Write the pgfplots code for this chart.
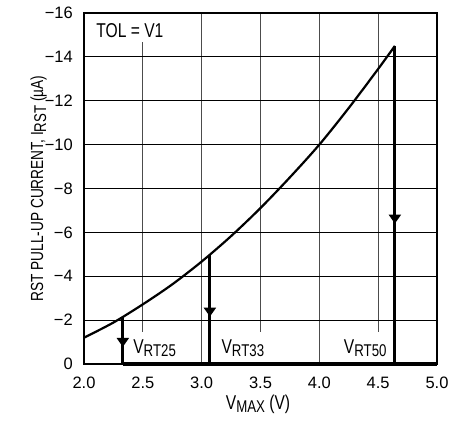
\documentclass[border=0pt]{standalone}
\usepackage{fontspec}
\setmainfont{Liberation Sans}
\newfontfamily\narrow{Liberation Sans}[FakeStretch=0.78]
\usepackage{pgfplots}
\pgfplotsset{compat=1.18}
\usetikzlibrary{arrows.meta}

% lowered, slightly smaller subscript in the condensed face
\newcommand\sub[1]{\raisebox{-3pt}{\fontsize{17}{17}\selectfont #1}}
\newcommand\lblfont{\narrow\fontsize{20}{20}\selectfont}

\begin{document}
\begin{tikzpicture}
\begin{axis}[
  scale only axis,
  width=353pt, height=351pt,
  xmin=2, xmax=5, ymin=-16, ymax=0,
  y dir=reverse,
  clip=false,
  xtick={2,2.5,3,3.5,4,4.5,5},
  xticklabels={2.0,2.5,3.0,3.5,4.0,4.5,5.0},
  ytick={-16,-14,-12,-10,-8,-6,-4,-2,0},
  yticklabels={−16,−14,−12,−10,−8,−6,−4,−2,0},
  major tick length=0pt,
  every tick label/.append style={font=\fontsize{16.5}{16.5}\selectfont, inner sep=0pt},
  xticklabel style={anchor=north, yshift=-12.7pt},
  yticklabel style={anchor=east, xshift=-11pt},
  grid=major,
  major x grid style={black!70, line width=0.9pt},
  major y grid style={black, line width=0.8pt},
  axis line style={line width=1.5pt},
  xlabel={V\sub{MAX} (V)},
  ylabel={RST PULL-UP CURRENT, I\sub{RST} (µA)},
  xlabel style={font=\lblfont, at={(axis description cs:0.493,-0.131)}, anchor=base},
  ylabel style={font=\narrow\fontsize{17.5}{17.5}\selectfont, at={(axis description cs:-0.1161,0.5)}, anchor=base},
]
% labels on white boxes that break the grid lines
\node[fill=white, inner xsep=4pt, inner ysep=0pt, text height=23pt, text depth=5pt,
      anchor=base, font=\lblfont] at (axis cs:2.39,-14.89) {TOL = V1};
\node[fill=white, inner xsep=3pt, inner ysep=0pt, text height=21.7pt, text depth=8.3pt,
      anchor=base, yshift=10.3pt, font=\lblfont] at (axis cs:2.60,0) {V\sub{RT25}};
\node[fill=white, inner xsep=3pt, inner ysep=0pt, text height=21.7pt, text depth=8.3pt,
      anchor=base, yshift=10.3pt, font=\lblfont] at (axis cs:3.35,0) {V\sub{RT33}};
\node[fill=white, inner xsep=3pt, inner ysep=0pt, text height=21.7pt, text depth=8.3pt,
      anchor=base, yshift=10.3pt, font=\lblfont] at (axis cs:4.39,0) {V\sub{RT50}};

% pull-up current versus VMAX
\addplot[black, line width=2.2pt, smooth] coordinates {
  (2.0,-1.2) (2.25,-1.89) (2.5,-2.72) (2.75,-3.63) (3.0,-4.67) (3.25,-5.83)
  (3.5,-7.11) (3.75,-8.51) (4.0,-10.0) (4.25,-11.67) (4.5,-13.45) (4.642,-14.5)
};

% reset thresholds: current drops to zero
\addplot[black, line width=3pt] coordinates {(2.33,-2.15) (2.33,0)};
\addplot[black, line width=3pt] coordinates {(3.07,-4.98) (3.07,0)};
\addplot[black, line width=3pt] coordinates {(4.642,-14.5) (4.642,0)};
\addplot[black, line width=3pt, -{Triangle[width=12pt,length=9pt]}] coordinates {(2.33,-2.0) (2.33,-0.78)};
\addplot[black, line width=3pt, -{Triangle[width=12pt,length=9pt]}] coordinates {(3.07,-4.5) (3.07,-2.16)};
\addplot[black, line width=3pt, -{Triangle[width=12pt,length=9pt]}] coordinates {(4.642,-12) (4.642,-6.4)};
\addplot[black, line width=4pt] coordinates {(2.33,0) (5,0)};
\end{axis}
\pgfresetboundingbox
\path[use as bounding box] ([xshift=-84pt,yshift=-59pt]current axis.south west)
  rectangle ([xshift=29pt,yshift=13pt]current axis.north east);
\end{tikzpicture}
\end{document}
